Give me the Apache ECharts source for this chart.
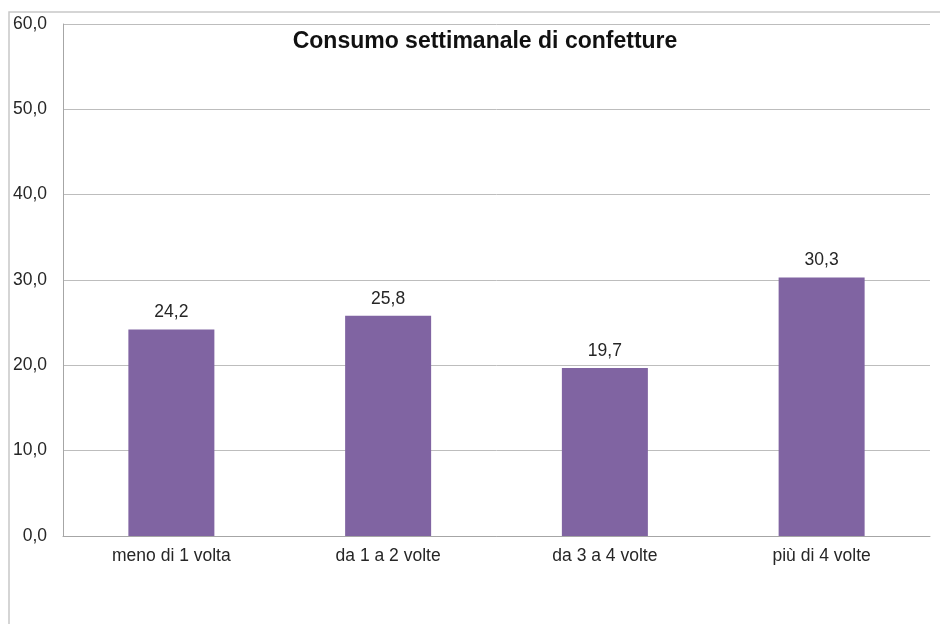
<!DOCTYPE html>
<html><head><meta charset="utf-8">
<script src="https://cdn.jsdelivr.net/npm/echarts@6/dist/echarts.min.js"></script>
<style>html,body{margin:0;padding:0;background:#fff}#c{width:940px;height:624px}</style>
</head><body><div id="c"></div>
<script>
const categories = ['meno di 1 volta', 'da 1 a 2 volte', 'da 3 a 4 volte', 'più di 4 volte'];
const values = [24.2, 25.8, 19.7, 30.3];
const titleText = 'Consumo settimanale di confetture';
const fmt = v => v.toFixed(1).replace('.', ',');
const chart = echarts.init(document.getElementById('c'));
chart.setOption({
  animation: false,
  backgroundColor: '#fff',
  graphic: [{type: 'rect', shape: {x: 9, y: 12, width: 960, height: 700}, style: {fill: 'none', stroke: '#c8c8c8', lineWidth: 1.5}, z: -1}],
  title: {text: titleText, left: 480, top: 25, textAlign: 'center', textStyle: {fontFamily: 'Liberation Sans', fontSize: 23, fontWeight: 'bold', color: '#111'}},
  grid: {left: 63, right: 10, top: 24, bottom: 88},
  xAxis: {type: 'category', data: categories,
    axisLine: {lineStyle: {color: '#a6a6a6'}}, axisTick: {show: false},
    axisLabel: {color: '#262626', fontFamily: 'Liberation Sans', fontSize: 17.5, margin: 11}},
  yAxis: {type: 'value', min: 0, max: 60, interval: 10,
    axisLine: {show: true, lineStyle: {color: '#a6a6a6'}}, axisTick: {show: false},
    splitLine: {lineStyle: {color: '#bdbdbd'}},
    axisLabel: {formatter: fmt, color: '#262626', fontFamily: 'Liberation Sans', fontSize: 17.5, margin: 16}},
  series: [{type: 'bar', data: values, barWidth: 86,
    itemStyle: {color: '#8064A2'},
    label: {show: true, position: 'top', formatter: p => fmt(p.value), color: '#262626', fontFamily: 'Liberation Sans', fontSize: 17.5, distance: 8}}]
});
</script></body></html>
